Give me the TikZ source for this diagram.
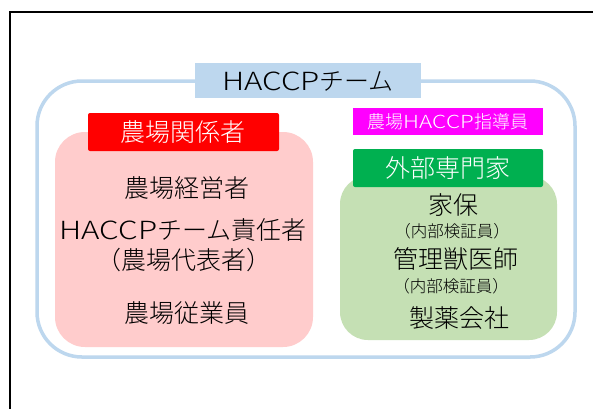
\documentclass[tikz,border=0pt]{standalone}
\usepackage{fontspec}
\setmainfont{Noto Sans CJK JP}
\newfontfamily\jp{Noto Sans CJK JP Light}
\newfontfamily\wide[FakeStretch=1.25]{Noto Sans CJK JP Light}
\definecolor{lblue}{HTML}{BDD7EE}
\definecolor{pinkf}{HTML}{FFCCCC}
\definecolor{magf}{HTML}{FF00FF}
\definecolor{grn}{HTML}{00B050}
\definecolor{lgrn}{HTML}{C5E0B4}
\tikzset{
  lbl/.style={inner sep=0pt, font=\jp\fontsize{25}{27}\selectfont},
  sub/.style={inner sep=0pt, font=\jp\fontsize{16.5}{18}\selectfont},
  hdr/.style={inner sep=0pt, text=white, font=\jp\fontsize{25}{27}\selectfont},
}
\newcommand{\LW}[1]{{\wide #1}}
\begin{document}
\begin{tikzpicture}[x=1pt,y=-1pt]
\useasboundingbox (0,0) rectangle (593,408);
\fill[white] (0,0) rectangle (593,408);
% black frame
\draw[line width=1.5pt] (10,410) -- (10,12) -- (595,12);
% outer team frame
\draw[lblue, line width=3.5pt, rounded corners=45pt] (37,81) rectangle (575,357);
\fill[lblue] (195,63) rectangle (421,98);
\node[lbl] (team) at (308,81) {\LW{HACCP}チーム};
% farm group
\fill[pinkf, rounded corners=30pt] (55,132) rectangle (313,347);
\fill[red, rounded corners=2pt] (88,113) rectangle (279,151);
\node[hdr] (farm) at (183,132) {農場関係者};
\node[lbl] (f1) at (187,188) {農場経営者};
\node[lbl] (f2) at (183,230) {\LW{HACCP}チーム責任者};
\node[lbl] (f3) at (184,260) {（農場代表者）};
\node[lbl] (f4) at (187,313) {農場従業員};
% instructor
\fill[magf] (353,108) rectangle (543,135);
\node[inner sep=0pt, text=white, font=\jp\fontsize{18}{20}\selectfont] (inst) at (448,122) {農場\LW{HACCP}指導員};
% external group
\fill[lgrn, rounded corners=28pt] (340,176) rectangle (557,340);
\fill[grn, rounded corners=2pt] (353,149) rectangle (543,187);
\node[hdr] (ext) at (448,168) {外部専門家};
\node[lbl] (e1) at (453,205) {家保};
\node[sub] (e2) at (452,231) {（内部検証員）};
\node[lbl] (e3) at (456,259) {管理獣医師};
\node[sub] (e4) at (451,286) {（内部検証員）};
\node[lbl] (e5) at (459,318) {製薬会社};
\end{tikzpicture}
\end{document}
